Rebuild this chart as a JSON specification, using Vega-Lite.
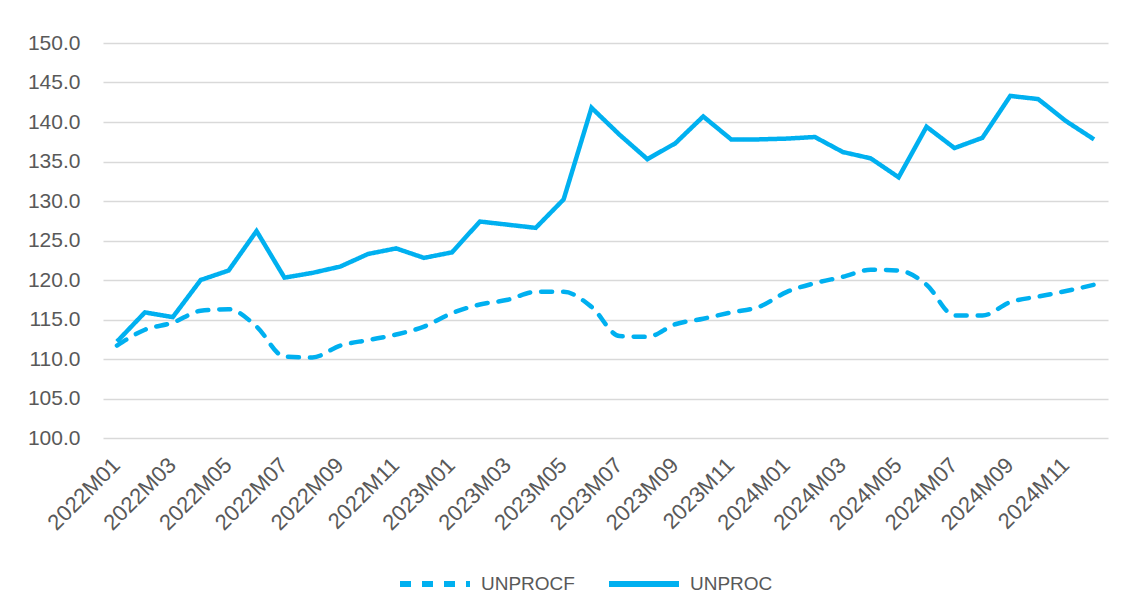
{
  "$schema": "https://vega.github.io/schema/vega-lite/v6.json",
  "width": 1005,
  "height": 395,
  "autosize": {"type": "none"},
  "padding": {"left": 103, "top": 43, "right": 23, "bottom": 172},
  "background": "white",
  "config": {
    "view": {"stroke": null},
    "font": "Liberation Sans",
    "axis": {"labelColor": "#595959", "labelFont": "Liberation Sans"},
    "legend": {"labelColor": "#595959", "labelFontSize": 19, "labelFont": "Liberation Sans"}
  },
  "datasets": {
    "d": [
      {"month": "2022M01", "UNPROCF": 111.7, "UNPROC": 112.2},
      {"month": "2022M02", "UNPROCF": 113.7, "UNPROC": 115.9},
      {"month": "2022M03", "UNPROCF": 114.6, "UNPROC": 115.3},
      {"month": "2022M04", "UNPROCF": 116.1, "UNPROC": 120.0},
      {"month": "2022M05", "UNPROCF": 116.3, "UNPROC": 121.2},
      {"month": "2022M06", "UNPROCF": 114.1, "UNPROC": 126.2},
      {"month": "2022M07", "UNPROCF": 110.3, "UNPROC": 120.3},
      {"month": "2022M08", "UNPROCF": 110.2, "UNPROC": 120.9},
      {"month": "2022M09", "UNPROCF": 111.7, "UNPROC": 121.7},
      {"month": "2022M10", "UNPROCF": 112.4, "UNPROC": 123.3},
      {"month": "2022M11", "UNPROCF": 113.1, "UNPROC": 124.0},
      {"month": "2022M12", "UNPROCF": 114.1, "UNPROC": 122.8},
      {"month": "2023M01", "UNPROCF": 115.8, "UNPROC": 123.5},
      {"month": "2023M02", "UNPROCF": 116.9, "UNPROC": 127.4},
      {"month": "2023M03", "UNPROCF": 117.5, "UNPROC": 127.0},
      {"month": "2023M04", "UNPROCF": 118.5, "UNPROC": 126.6},
      {"month": "2023M05", "UNPROCF": 118.5, "UNPROC": 130.2},
      {"month": "2023M06", "UNPROCF": 116.6, "UNPROC": 141.8},
      {"month": "2023M07", "UNPROCF": 112.9, "UNPROC": 138.4},
      {"month": "2023M08", "UNPROCF": 112.8, "UNPROC": 135.3},
      {"month": "2023M09", "UNPROCF": 114.4, "UNPROC": 137.3},
      {"month": "2023M10", "UNPROCF": 115.1, "UNPROC": 140.7},
      {"month": "2023M11", "UNPROCF": 115.9, "UNPROC": 137.8},
      {"month": "2023M12", "UNPROCF": 116.6, "UNPROC": 137.8},
      {"month": "2024M01", "UNPROCF": 118.5, "UNPROC": 137.9},
      {"month": "2024M02", "UNPROCF": 119.6, "UNPROC": 138.1},
      {"month": "2024M03", "UNPROCF": 120.4, "UNPROC": 136.2},
      {"month": "2024M04", "UNPROCF": 121.3, "UNPROC": 135.4},
      {"month": "2024M05", "UNPROCF": 121.2, "UNPROC": 133.0},
      {"month": "2024M06", "UNPROCF": 119.4, "UNPROC": 139.4},
      {"month": "2024M07", "UNPROCF": 115.5, "UNPROC": 136.7},
      {"month": "2024M08", "UNPROCF": 115.5, "UNPROC": 138.0},
      {"month": "2024M09", "UNPROCF": 117.2, "UNPROC": 143.3},
      {"month": "2024M10", "UNPROCF": 117.9, "UNPROC": 142.9},
      {"month": "2024M11", "UNPROCF": 118.6, "UNPROC": 140.1},
      {"month": "2024M12", "UNPROCF": 119.4, "UNPROC": 137.8}
    ]
  },
  "data": {"name": "d"},
  "transform": [{"fold": ["UNPROCF", "UNPROC"], "as": ["series", "value"]}],
  "encoding": {
    "x": {
      "field": "month", "type": "ordinal", "title": null,
      "scale": {"paddingInner": 0, "paddingOuter": 0.5},
      "axis": {"labelAngle": -45, "domain": false, "ticks": false, "grid": false, "labelPadding": 16, "labelOffset": -8, "labelFontSize": 22,
               "labelExpr": "indexof(['01','03','05','07','09','11'], slice(datum.value, 5)) >= 0 ? datum.value : ''", "labelOverlap": false}
    },
    "y": {
      "field": "value", "type": "quantitative", "title": null,
      "scale": {"domain": [100, 150], "nice": false, "zero": false},
      "axis": {"values": [100, 105, 110, 115, 120, 125, 130, 135, 140, 145, 150], "format": ".1f", "labelFontSize": 21,
               "domain": false, "ticks": false, "gridColor": "#D9D9D9", "gridWidth": 1.5, "labelPadding": 23}
    },
    "strokeDash": {
      "field": "series", "type": "nominal",
      "scale": {"domain": ["UNPROCF", "UNPROC"], "range": [[11, 11], [1, 0]]},
      "legend": {"title": null, "orient": "none", "direction": "horizontal", "legendX": 294, "legendY": 503,
                 "symbolType": "stroke", "symbolSize": 4900, "symbolStrokeWidth": 6, "symbolStrokeColor": "#00B0F0",
                 "labelOffset": 8, "columnPadding": 22}
    }
  },
  "layer": [
    {
      "transform": [{"filter": "datum.series === 'UNPROCF'"}],
      "mark": {"type": "line", "interpolate": "monotone", "strokeWidth": 4.5, "strokeCap": "round", "color": "#00B0F0"}
    },
    {
      "transform": [{"filter": "datum.series === 'UNPROC'"}],
      "mark": {"type": "line", "strokeWidth": 4.5, "strokeJoin": "miter", "color": "#00B0F0"}
    }
  ]
}
